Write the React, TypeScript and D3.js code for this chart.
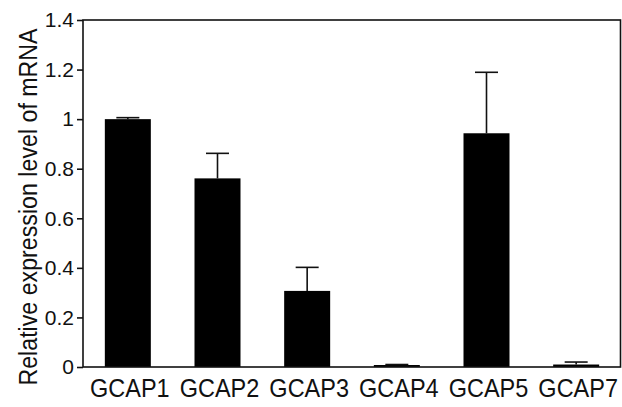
import * as d3 from "d3"
import React, { useRef, useEffect } from 'react';

// data
const genes = ["GCAP1", "GCAP2", "GCAP3", "GCAP4", "GCAP5", "GCAP7"];
const means = [1.0, 0.761, 0.307, 0.008, 0.943, 0.01];
const errors = [0.006, 0.101, 0.095, 0.002, 0.246, 0.01];
const yTicks = [0, 0.2, 0.4, 0.6, 0.8, 1, 1.2, 1.4];
const yLabel = "Relative expression level of mRNA";

const width = 622;
const height = 407;

const App: React.FC = () => {
    const svgRef = useRef<SVGSVGElement | null>(null);

    useEffect(() => {
        const l = 83, r = 1, t = 20, b = 40;
        const graphWidth = width - l - r;
        const graphHeight = height - t - b;
        const font = "'Liberation Sans', Arial, sans-serif";

        const xScale = d3.scaleBand().domain(genes)
            .range([0, graphWidth]).paddingInner(0.487).paddingOuter(0.2435);
        const yScale = d3.scaleLinear().domain([0, 1.4]).range([graphHeight, 0]);

        const svg = d3.select(svgRef.current);
        svg.selectAll('*').remove();
        svg.append('rect').attr('width', width).attr('height', height).attr('fill', '#fff');

        const g = svg.append('g').attr('transform', `translate(${l},${t})`);

        const rows = genes.map((gene, i) => ({ gene, mean: means[i], err: errors[i] }));

        // bars
        g.selectAll('.bar').data(rows).enter()
            .append('rect')
            .attr('class', 'bar')
            .attr('x', (d) => xScale(d.gene)!)
            .attr('y', (d) => yScale(d.mean))
            .attr('width', xScale.bandwidth())
            .attr('height', (d) => graphHeight - yScale(d.mean))
            .attr('fill', '#000');

        // error bars (upper only)
        const capW = xScale.bandwidth() / 2;
        const eb = g.selectAll('.err').data(rows).enter().append('g').attr('class', 'err');
        eb.append('line')
            .attr('x1', (d) => xScale(d.gene)! + xScale.bandwidth() / 2)
            .attr('x2', (d) => xScale(d.gene)! + xScale.bandwidth() / 2)
            .attr('y1', (d) => yScale(d.mean))
            .attr('y2', (d) => yScale(d.mean + d.err))
            .attr('stroke', '#111').attr('stroke-width', 1.6);
        eb.append('line')
            .attr('x1', (d) => xScale(d.gene)! + xScale.bandwidth() / 2 - capW / 2)
            .attr('x2', (d) => xScale(d.gene)! + xScale.bandwidth() / 2 + capW / 2)
            .attr('y1', (d) => yScale(d.mean + d.err))
            .attr('y2', (d) => yScale(d.mean + d.err))
            .attr('stroke', '#111').attr('stroke-width', 1.6);

        // frame
        g.append('rect')
            .attr('x', 0).attr('y', 0)
            .attr('width', graphWidth - 0.5).attr('height', graphHeight)
            .attr('fill', 'none').attr('stroke', '#111').attr('stroke-width', 1.6);

        // y axis
        const yAxis = g.append('g')
            .call(d3.axisLeft(yScale).tickValues(yTicks).tickFormat((d) => String(d)).tickSize(6).tickPadding(3));
        yAxis.select('.domain').remove();
        yAxis.selectAll('line').attr('stroke', '#111').attr('stroke-width', 1.6);
        yAxis.selectAll('text').attr('font-size', 21).attr('font-family', font).attr('fill', '#111');

        // x labels
        g.selectAll('.xl').data(genes).enter()
            .append('text')
            .attr('class', 'xl')
            .attr('transform', (d) => `translate(${xScale(d)! + xScale.bandwidth() / 2 + 2},${graphHeight + 29.5}) scale(1,1.12)`)
            .attr('text-anchor', 'middle')
            .attr('font-size', 23.5)
            .attr('font-family', font)
            .attr('fill', '#111')
            .text((d) => d);

        // y title
        svg.append('text')
            .attr('transform', `translate(36.5,207) rotate(-90) scale(1,1.15)`)
            .attr('text-anchor', 'middle')
            .attr('font-size', 23.2)
            .attr('font-family', font)
            .attr('fill', '#111')
            .text(yLabel);
    }, []);

    return (
        <svg ref={svgRef} width={width} height={height}
            style={{ position: 'absolute', left: 0, top: 0, display: 'block' }}></svg>
    );
};

export default App;
